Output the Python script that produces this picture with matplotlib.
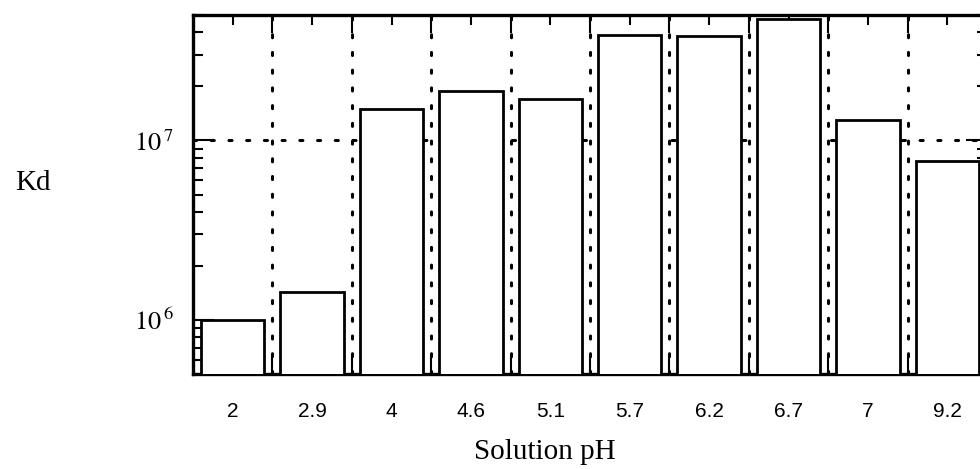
import numpy as np
import matplotlib
matplotlib.use('Agg')
import matplotlib.pyplot as plt
from matplotlib.ticker import FixedLocator, LogLocator, NullFormatter

# Kd versus solution pH
ph_labels = ['2', '2.9', '4', '4.6', '5.1', '5.7', '6.2', '6.7', '7', '9.2']
kd_values = [1.0e6, 1.44e6, 1.5e7, 1.89e7, 1.71e7, 3.87e7, 3.83e7, 4.74e7, 1.30e7, 7.64e6]

plt.rcParams['mathtext.fontset'] = 'stix'
serif = 'Liberation Serif'
sans = 'Liberation Sans'

fig = plt.figure(figsize=(9.8, 4.69), dpi=100)
# axes runs a little past the right edge, as in the cropped scan
ax = fig.add_axes([193/980, 95/469, 794/980, 359/469])

x = np.arange(len(ph_labels))
ax.bar(x, kd_values, width=0.8, color='white', edgecolor='black', lw=2.0, zorder=3)

ax.set_yscale('log')
ax.set_ylim(5e5, 5e7)
ax.set_xlim(-0.5, len(ph_labels) - 0.5)

# category labels on the centres, long ticks + dotted grid on the boundaries
ax.xaxis.set_major_locator(FixedLocator(x))
ax.set_xticklabels(ph_labels, family=sans, fontsize=15)
ax.xaxis.set_minor_locator(FixedLocator(x[:-1] + 0.5))
ax.grid(which='minor', axis='x', color='black', lw=2.2, ls=(0, (1, 4.8)),
        dash_capstyle='round', zorder=1)
ax.axhline(1e7, color='black', lw=2.2, ls=(0, (1, 4.8)),
           dash_capstyle='round', zorder=1)

ax.yaxis.set_major_locator(FixedLocator([1e6, 1e7]))
ax.set_yticklabels([r'$10^{\,6}$', r'$10^{\,7}$'], fontsize=19)
ax.yaxis.set_minor_locator(LogLocator(base=10, subs=np.arange(2, 10)))
ax.yaxis.set_minor_formatter(NullFormatter())

ax.tick_params(axis='x', which='major', direction='in', length=7, width=1.5,
               top=True, pad=20)
ax.tick_params(axis='x', which='minor', direction='in', length=13, width=1.5,
               top=True)
ax.tick_params(axis='y', which='major', direction='in', length=15, width=1.5,
               right=True, pad=14)
ax.tick_params(axis='y', which='minor', direction='in', length=7, width=1.5,
               right=True)

for sp in ax.spines.values():
    sp.set_linewidth(2.4)

fig.text(33/980, 1 - 183/469, 'Kd', family=serif, fontsize=21,
         ha='center', va='center')
fig.text(545/980, 1 - 452/469, 'Solution pH', family=serif, fontsize=21,
         ha='center', va='center')

fig.savefig('out.png', dpi=100)
